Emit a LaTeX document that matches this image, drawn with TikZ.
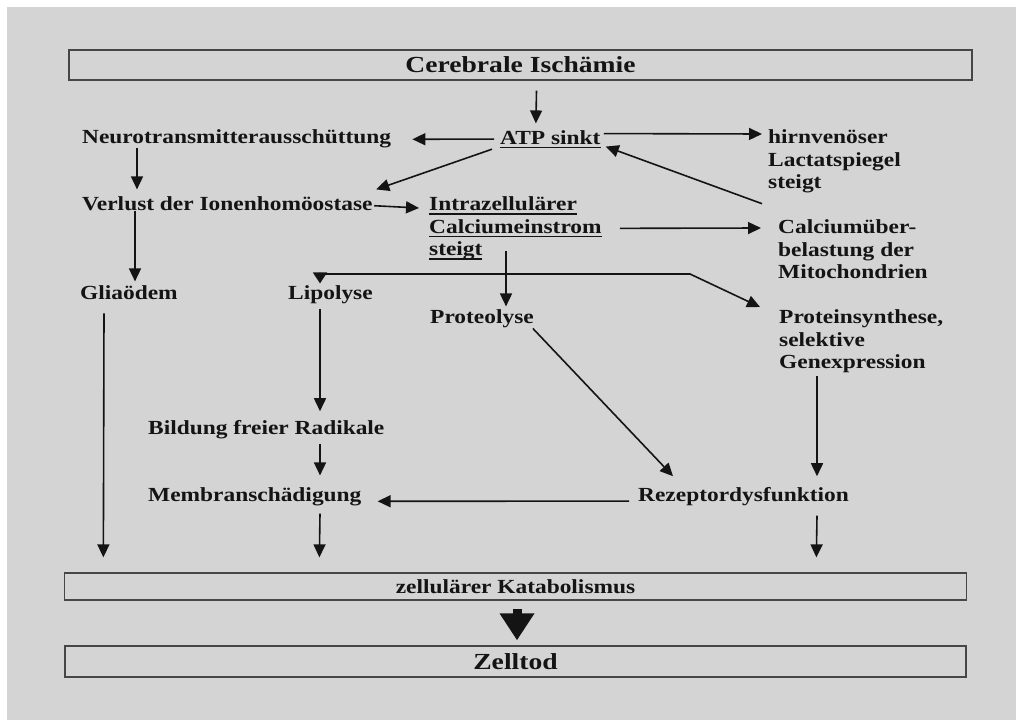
\documentclass[tikz,border=0pt]{standalone}
\usepackage{fontspec}
\usepackage{tikz}
\usetikzlibrary{arrows.meta}

\newfontfamily\diagfont{Liberation Serif}[FakeStretch=1.17]
\newfontfamily\headfont{Liberation Serif}[FakeStretch=1.2]
\newcommand{\ulin}[1]{\setbox0\hbox{#1}\rlap{\rule[-4pt]{\wd0}{1.5pt}}\box0}

\definecolor{paper}{RGB}{212,212,212}
\definecolor{ink}{RGB}{20,20,20}
\definecolor{frame}{RGB}{70,70,70}

\tikzset{
	lbl/.style={anchor=base west, inner sep=0pt, text=ink,
		font=\fontsize{20}{22.5}\selectfont\diagfont\bfseries},
	lblm/.style={lbl, anchor=north west, align=left},
	bar/.style={draw=frame, line width=1.3pt, inner sep=0pt, text=ink},
	arr/.style={draw=ink, line width=1.6pt, -{Triangle[length=13pt,width=12pt]}},
	arrs/.style={draw=ink, line width=1.6pt, {Triangle[length=11pt,width=14pt]}-{Triangle[length=13pt,width=12pt]}}
}

\begin{document}
\begin{tikzpicture}[x=1pt,y=-1pt]
			\fill[white] (0,0) rectangle (1016,720);
			\fill[paper] (7,7) rectangle (1016,720);

			% boxes
			\node[bar, minimum width=903pt, minimum height=30pt,
				font=\fontsize{23}{26}\selectfont\headfont\bfseries] (isch) at (520.5,65) {Cerebrale Ischämie};
			\node[bar, minimum width=902pt, minimum height=27pt,
				font=\fontsize{20}{22.5}\selectfont\diagfont\bfseries] (katab) at (515.5,586.5) {zellulärer Katabolismus};
			\node[bar, minimum width=901pt, minimum height=31pt,
				font=\fontsize{23}{26}\selectfont\headfont\bfseries] (tod) at (515.5,661.5) {Zelltod};

			% texts
			\node[lbl] (neuro) at (82,143) {Neurotransmitterausschüttung};
			\node[lbl] (atp) at (500,144) {\ulin{ATP sinkt}};
			\node[lblm] (lactat) at (768,129.5) {hirnvenöser\\Lactatspiegel\\steigt};
			\node[lbl] (verlust) at (82,210) {Verlust der Ionenhomöostase};
			\node[lblm] (intra) at (429,196.5) {\ulin{Intrazellulärer}\\\ulin{Calciumeinstrom}\\\ulin{steigt}};
			\node[lblm] (calc) at (778,219.5) {Calciumüber-\\belastung der\\Mitochondrien};
			\node[lbl] (glia) at (80,299) {Gliaödem};
			\node[lbl] (lipo) at (288,299) {Lipolyse};
			\node[lbl] (proteo) at (430,323) {Proteolyse};
			\node[lblm] (protsyn) at (779,309.5) {Proteinsynthese,\\selektive\\Genexpression};
			\node[lbl] (radikal) at (148,434) {Bildung freier Radikale};
			\node[lbl] (membran) at (148,501) {Membranschädigung};
			\node[lbl] (rezeptor) at (638,501) {Rezeptordysfunktion};

			% arrows
			\draw[arr] ([xshift=16pt,yshift=-10pt]isch.south) -- ([xshift=-14.5pt,yshift=6.5pt]atp.north);
			\draw[arr] ([xshift=-6pt]atp.west) -- ([xshift=21pt,yshift=-1pt]neuro.east);
			\draw[arr] ([xshift=3pt,yshift=5.5pt]atp.east) -- ([xshift=-6pt,yshift=-4.5pt]lactat.north west);
			\draw[arr] ([xshift=-6pt,yshift=-10.5pt]lactat.south west) -- ([xshift=5pt,yshift=-7.5pt]atp.east);
			\draw[arr] ([xshift=-8pt,yshift=-1pt]atp.south west) -- ([xshift=3.5pt,yshift=6.5pt]verlust.north east);
			\draw[arr] ([xshift=55pt]neuro.south west) -- ([xshift=55pt,yshift=6.5pt]verlust.north west);
			\draw[arr] ([xshift=1.5pt,yshift=-2.5pt]verlust.east) -- ([xshift=-10pt,yshift=-11.5pt]intra.north west);
			\draw[arr] ([xshift=53pt]verlust.south west) -- ([xshift=55pt,yshift=3.5pt]glia.north west);
			\draw[arr] ([xshift=18pt]intra.east) -- ([xshift=-17pt,yshift=-8.5pt]calc.north west);
			\draw[arr] ([xshift=77pt,yshift=9pt]intra.south west) -- ([xshift=76pt,yshift=2.5pt]proteo.north west);

			\coordinate (knee) at (690,274);
			\draw[arrs] ([xshift=32pt,yshift=1.5pt]lipo.north west) |- (knee) -- ([xshift=-19pt,yshift=2.5pt]protsyn.north west);

			\draw[arr] ([xshift=32pt,yshift=-5pt]lipo.south west) -- ([xshift=172pt,yshift=8.5pt]radikal.north west);
			\draw[arr] ([xshift=172pt,yshift=-5pt]radikal.south west) -- ([xshift=172pt,yshift=11.5pt]membran.north west);
			\draw[arr] ([xshift=-9pt,yshift=-5pt]rezeptor.west) -- ([xshift=16pt,yshift=-5pt]membran.east);
			\draw[arr] ([xshift=-1pt,yshift=-1pt]proteo.south east) -- ([xshift=35pt,yshift=10.5pt]rezeptor.north west);
			\draw[arr] ([xshift=38pt,yshift=-3pt]protsyn.south west) -- ([xshift=179pt,yshift=10.5pt]rezeptor.north west);

			\draw[arr] ([xshift=24pt,yshift=-14pt]glia.south west) -- ([xshift=39.5pt,yshift=15pt]katab.north west);
			\draw[arr] ([xshift=172pt,yshift=-8pt]membran.south west) -- ([xshift=255.5pt,yshift=15pt]katab.north west);
			\draw[arr] ([xshift=179pt,yshift=-10pt]rezeptor.south west) -- ([xshift=752.5pt,yshift=15pt]katab.north west);

			\draw[draw=ink, line width=9pt, -{Triangle[length=27pt,width=33pt]}]
				([xshift=1.5pt,yshift=-8pt]katab.south) -- ([xshift=1.5pt,yshift=5pt]tod.north);
\end{tikzpicture}
\end{document}
